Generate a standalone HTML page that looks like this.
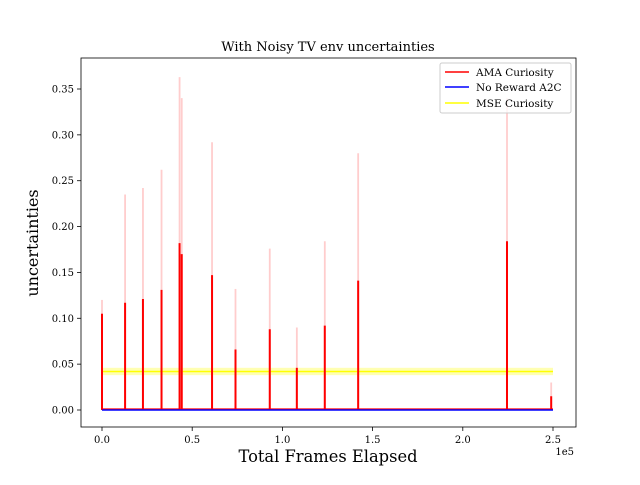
<!DOCTYPE html>
<html><head><meta charset="utf-8"><style>
body{margin:0;background:#fff}
svg text{font-family:"DejaVu Serif","Liberation Serif",serif;fill:#000}
</style></head><body>
<svg width="640" height="480" xmlns="http://www.w3.org/2000/svg">
<rect x="0" y="0" width="640" height="480" fill="#fff"/>
<g id="plot"></g>
<rect x="81" y="58" width="495" height="369" fill="none" stroke="#000" stroke-width="0.8"/>
<g id="axes"></g>
<text x="328" y="51" font-size="13" text-anchor="middle">With Noisy TV env uncertainties</text>
<text x="328" y="462" font-size="16.3" text-anchor="middle">Total Frames Elapsed</text>
<text x="38" y="243" font-size="16" text-anchor="middle" transform="rotate(-90 38 243)">uncertainties</text>
<text x="574" y="455" font-size="10" text-anchor="end">1e5</text>
<g>
<rect x="440" y="63" width="131" height="50" fill="#fff" fill-opacity="0.8" stroke="#ccc" rx="2"/>
<line x1="445" y1="72" x2="469" y2="72" stroke="red" stroke-width="1.5"/>
<text x="476" y="76" font-size="10.5">AMA Curiosity</text>
<line x1="445" y1="87" x2="469" y2="87" stroke="blue" stroke-width="1.5"/>
<text x="476" y="91" font-size="10.5">No Reward A2C</text>
<line x1="445" y1="103" x2="469" y2="103" stroke="yellow" stroke-width="1.5"/>
<text x="476" y="107" font-size="10.5">MSE Curiosity</text>
</g>
</svg>
<script>
const spikeFrames=[0,12800,22700,33000,43000,44200,61000,74000,93000,108000,123500,142000,224500,249000];
const spikeMean=[0.105,0.117,0.121,0.131,0.182,0.17,0.147,0.066,0.088,0.046,0.092,0.141,0.184,0.015];
const spikeUpper=[0.12,0.235,0.242,0.262,0.363,0.34,0.292,0.132,0.176,0.09,0.184,0.28,0.34,0.03];
const xTicks=[0,50000,100000,150000,200000,250000];
const xTickLabels=["0.0","0.5","1.0","1.5","2.0","2.5"];
const yTicks=[0,0.05,0.1,0.15,0.2,0.25,0.3,0.35];
const yTickLabels=["0.00","0.05","0.10","0.15","0.20","0.25","0.30","0.35"];
const mseLevel=0.042, mseBand=0.004, a2cLevel=0.0, frameMax=250000;
const X=v=>102+v*(451/250000);
const Y=v=>410-v*(321/0.35);
const NS="http://www.w3.org/2000/svg";
const plot=document.getElementById('plot'),axes=document.getElementById('axes');
function mk(tag,attrs,parent){const e=document.createElementNS(NS,tag);for(const k in attrs)e.setAttribute(k,attrs[k]);parent.appendChild(e);return e;}
let b=mk('rect',{x:X(0),y:Y(mseLevel+mseBand),width:X(frameMax)-X(0),height:Y(mseLevel-mseBand)-Y(mseLevel+mseBand),fill:'yellow','fill-opacity':0.3},plot);


let m=mk('line',{x1:X(0),y1:Y(mseLevel),x2:X(frameMax),y2:Y(mseLevel),stroke:'yellow','stroke-width':1.5},plot);


spikeFrames.forEach((f,i)=>{
 let u=mk('line',{x1:X(f),y1:Y(0),x2:X(f),y2:Y(spikeUpper[i]),stroke:'#ffc0c0','stroke-width':1.8,'stroke-opacity':0.8},plot);
 
 
 let s=mk('line',{x1:X(f),y1:Y(0),x2:X(f),y2:Y(spikeMean[i]),stroke:'red','stroke-width':2},plot);
 
 
});
let base=mk('line',{x1:X(0),y1:Y(0.001),x2:X(frameMax),y2:Y(0.001),stroke:'red','stroke-width':1.5},plot);


let a2c=mk('line',{x1:X(0),y1:Y(a2cLevel),x2:X(frameMax),y2:Y(a2cLevel),stroke:'blue','stroke-width':1.5},plot);


xTicks.forEach((t,i)=>{
 mk('line',{x1:X(t),y1:427,x2:X(t),y2:431,stroke:'#000','stroke-width':0.8},axes);
 let tx=mk('text',{x:X(t),y:443,'font-size':10,'text-anchor':'middle'},axes);tx.textContent=xTickLabels[i];
 
 
});
yTicks.forEach((t,i)=>{
 mk('line',{x1:77,y1:Y(t),x2:81,y2:Y(t),stroke:'#000','stroke-width':0.8},axes);
 let tx=mk('text',{x:74,y:Y(t)+3.5,'font-size':10,'text-anchor':'end'},axes);tx.textContent=yTickLabels[i];
 
 
});
</script>
</body></html>
